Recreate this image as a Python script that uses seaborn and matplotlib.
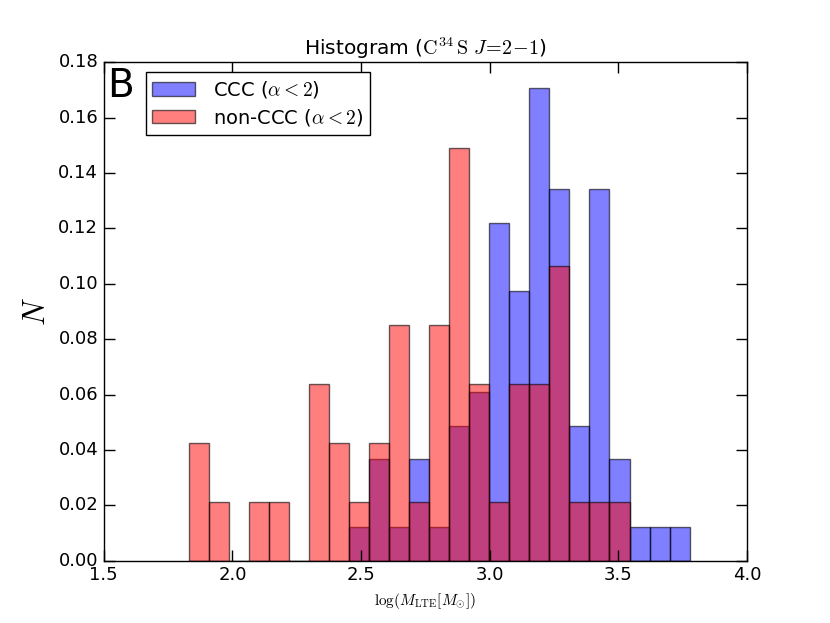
import numpy as np
import pandas as pd
import seaborn as sns
import matplotlib.pyplot as plt

# bin edges shared by both samples (25 bins)
bin_lo = 1.830
bin_hi = 3.777
n_bins = 25

# counts per bin (normalised by sample size)
ccc_counts = [0, 0, 0, 0, 0, 0, 0, 0, 1, 3, 1, 3, 1, 4, 5, 10, 8, 14, 11, 4, 11, 3, 1, 1, 1]
non_ccc_counts = [2, 1, 0, 1, 1, 0, 3, 2, 1, 2, 4, 1, 4, 7, 3, 1, 3, 3, 5, 1, 1, 1, 0, 0, 0]

edges = np.linspace(bin_lo, bin_hi, n_bins + 1)
centers = 0.5 * (edges[:-1] + edges[1:])
ccc = pd.DataFrame({"logM": centers, "w": np.array(ccc_counts) / sum(ccc_counts)})
non = pd.DataFrame({"logM": centers, "w": np.array(non_ccc_counts) / sum(non_ccc_counts)})

plt.style.use("classic")
plt.rcParams["mathtext.fontset"] = "cm"
plt.rcParams["font.family"] = ["DejaVu Sans"]

fig, ax = plt.subplots(figsize=(8.3, 6.23), dpi=100, facecolor="white")
fig.subplots_adjust(left=0.125, right=0.9, bottom=0.1, top=0.9)

sns.histplot(data=ccc, x="logM", weights="w", bins=list(edges), stat="count", ax=ax,
             color=(0, 0, 1), alpha=0.5, edgecolor=(0, 0, 0, 0.6), linewidth=1,
             label=r"CCC ($\alpha<2$)")
sns.histplot(data=non, x="logM", weights="w", bins=list(edges), stat="count", ax=ax,
             color=(1, 0, 0), alpha=0.5, edgecolor=(0, 0, 0, 0.6), linewidth=1,
             label=r"non-CCC ($\alpha<2$)")

ax.set_xlim(1.5, 4.0)
ax.set_ylim(0, 0.18)
ax.set_xticks(np.arange(1.5, 4.01, 0.5))
ax.set_yticks(np.arange(0, 0.181, 0.02))
ax.set_xticklabels(["%.1f" % t for t in np.arange(1.5, 4.01, 0.5)], fontsize=13)
ax.set_yticklabels(["%.2f" % t for t in np.arange(0, 0.181, 0.02)], fontsize=13)
ax.tick_params(direction="in", length=8, width=1, top=True, right=True)

ax.set_title(r"Histogram ($\mathrm{C}^{34}\,\mathrm{S}$ $J\!=\!2\!-\!1$)", fontsize=14.5)
ax.set_xlabel(r"$\log(M_{\rm LTE}[M_{\odot}])$", fontsize=11)
ax.set_ylabel(r"$N$", fontsize=22)
ax.text(0.005, 0.99, "B", transform=ax.transAxes, fontsize=28, va="top", ha="left")

leg = ax.legend(loc="upper left", bbox_to_anchor=(0.065, 0.98), borderaxespad=0,
                fontsize=14, fancybox=False, handlelength=2.2, handletextpad=0.9,
                labelspacing=0.35, borderpad=0.35)
leg.get_frame().set_edgecolor("black")

fig.savefig("out.png", dpi=100, facecolor="white")
